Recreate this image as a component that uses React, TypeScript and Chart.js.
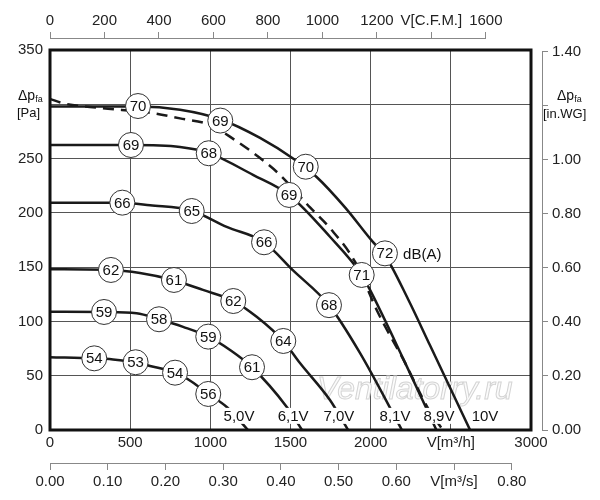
import React, { useEffect, useRef } from 'react';
import { Chart, registerables } from 'chart.js';

Chart.register(...registerables);

const FONT = "'Liberation Sans', Arial, Helvetica, sans-serif";

// Fan curves: flow V [m³/h] and static pressure Δp_fa [Pa]
const flow10V = [0, 300, 549, 811, 1066, 1310, 1516, 1663, 1840, 2015, 2089, 2235, 2370, 2620];
const press10V = [298, 298, 298, 295, 286, 269, 250, 233, 205, 173, 161, 120, 78, 0];

const flow89V = [0, 505, 811, 992, 1266, 1491, 1746, 1944, 1996, 2202, 2410];
const press89V = [262.5, 262.5, 260.7, 255, 235, 216.5, 178, 143, 129, 66, 0];

const flow81V = [0, 451, 624, 884, 1102, 1335, 1516, 1740, 1933, 2195];
const press81V = [209.4, 209.4, 207, 202, 187, 173, 147, 115, 71, 0];

const flow70V = [0, 380, 561, 773, 954, 1143, 1291, 1455, 1559, 1746, 1859];
const press70V = [148, 147.4, 144.6, 138, 129, 119, 104, 82, 61.7, 27.6, 0];

const flow61V = [0, 337, 540, 680, 830, 987, 1123, 1260, 1478, 1572];
const press61V = [109, 108.7, 107.5, 102, 95, 86, 73.7, 57.8, 21, 0];

const flow50V = [0, 276, 393, 534, 624, 780, 884, 987, 1104, 1235];
const press50V = [67, 66, 65, 62.4, 59, 52.8, 44.5, 33.2, 21, 0];

// dashed curve
const flowDash = [0, 80, 312, 636, 811, 998, 1154, 1310, 1434, 1622, 1746, 1902, 2046, 2214, 2358, 2450];
const pressDash = [305, 301, 296.6, 292, 287, 281, 267, 250.5, 235, 205, 186, 155, 108, 62, 20, 0];

// sound power markers dB(A)
const dbFlow = [549, 1062, 1595, 2089, 505, 990, 1491, 1944, 451, 884, 1335, 1740, 380, 773, 1143, 1455, 337, 680, 987, 1260, 276, 534, 780, 987];
const dbPress = [298.4, 285, 242.5, 162.7, 262.5, 254.9, 216.5, 142.8, 209.4, 201.7, 172.9, 115, 147.4, 138.2, 118.8, 82, 108.7, 102, 86, 57.8, 66, 62.4, 52.8, 33.2];
const dbValue = [70, 69, 70, 72, 69, 68, 69, 71, 66, 65, 66, 68, 62, 61, 62, 64, 59, 58, 59, 61, 54, 53, 54, 56];

// voltage labels
const voltText = ['5,0V', '6,1V', '7,0V', '8,1V', '8,9V', '10V'];
const voltFlow = [1179, 1516, 1802, 2152, 2426, 2713];
const voltPress = [13, 13, 13, 13, 13, 13];

// ticks
const flowTicks = [0, 500, 1000, 1500, 2000, 2500, 3000];
const pressTicks = [0, 50, 100, 150, 200, 250, 300, 350];
const cfmTicks = [0, 200, 400, 600, 800, 1000, 1200, 1400, 1600];
const m3sTicks = [0, 0.1, 0.2, 0.3, 0.4, 0.5, 0.6, 0.7, 0.8];
const inwgTicks = [0, 0.2, 0.4, 0.6, 0.8, 1.0, 1.2, 1.4];

const FLOW_MAX = 3000;
const PRESS_MAX = 350;
const M3H_PER_CFM = 1.69901;
const PA_PER_INWG = 249.089;

const WATERMARK = 'Ventilatorry.ru';

const toXY = (xs: number[], ys: number[]) => xs.map((x, i) => ({ x, y: ys[i] }));
const near = (a: number, b: number) => Math.abs(a - b) < 1e-6;

const overlay = {
  id: 'overlay',
  beforeDatasetsDraw(chart: any) {
    const { ctx, chartArea: a } = chart;
    ctx.save();
    ctx.beginPath();
    ctx.rect(a.left, a.top, a.right - a.left, a.bottom - a.top);
    ctx.clip();
    ctx.font = `italic 32px ${FONT}`;
    ctx.textAlign = 'left';
    ctx.textBaseline = 'alphabetic';
    ctx.fillStyle = '#fbfbfb';
    ctx.strokeStyle = '#d4d4d4';
    ctx.lineWidth = 1;
    ctx.fillText(WATERMARK, a.left + 267, a.bottom - 31, 213);
    ctx.strokeText(WATERMARK, a.left + 267, a.bottom - 31, 213);
    ctx.restore();
  },
  afterDatasetsDraw(chart: any) {
    const { ctx, chartArea: a, scales } = chart;
    ctx.save();
    // frame
    ctx.strokeStyle = '#111';
    ctx.lineWidth = 3;
    ctx.strokeRect(a.left, a.top, a.right - a.left, a.bottom - a.top);

    // dB values in circles
    const meta = chart.getDatasetMeta(0);
    ctx.font = `15px ${FONT}`;
    ctx.fillStyle = '#111';
    ctx.textAlign = 'center';
    ctx.textBaseline = 'middle';
    meta.data.forEach((pt: any, i: number) => {
      ctx.fillText(String(dbValue[i]), pt.x, pt.y + 1);
    });

    // voltage labels with white background
    voltText.forEach((t, i) => {
      const x = scales.x.getPixelForValue(voltFlow[i]);
      const y = scales.y.getPixelForValue(voltPress[i]);
      const w = ctx.measureText(t).width;
      ctx.fillStyle = '#fff';
      ctx.fillRect(x - w / 2 - 1, y - 8, w + 2, 16);
      ctx.fillStyle = '#111';
      ctx.fillText(t, x, y + 1);
    });

    // dB(A)
    ctx.textAlign = 'left';
    ctx.fillText('dB(A)', scales.x.getPixelForValue(2202), scales.y.getPixelForValue(162) + 1);

    // axis titles
    const yT = scales.y.getPixelForValue(300);
    ctx.textBaseline = 'alphabetic';
    ctx.textAlign = 'left';
    const drawDp = (x: number) => {
      ctx.font = `14px ${FONT}`;
      ctx.fillText('Δp', x, yT - 4);
      const w = ctx.measureText('Δp').width;
      ctx.font = `9px ${FONT}`;
      ctx.fillText('fa', x + w, yT - 2);
    };
    drawDp(a.left - 32);
    ctx.font = `13px ${FONT}`;
    ctx.fillText('[Pa]', a.left - 33, yT + 13);
    const rx = scales.yinwg.left;
    drawDp(rx + 15);
    ctx.font = `13px ${FONT}`;
    ctx.fillText('[in.WG]', rx + 1, yT + 14);

    // secondary axis lines
    ctx.strokeStyle = '#888';
    ctx.lineWidth = 1;
    ctx.beginPath();
    const cfm = scales.xcfm;
    const yc = Math.round(cfm.bottom) - 0.5;
    ctx.moveTo(cfm.getPixelForValue(0), yc);
    ctx.lineTo(cfm.getPixelForValue(1600), yc);
    const ms = scales.xs;
    const ym = Math.round(ms.top) + 0.5;
    ctx.moveTo(ms.getPixelForValue(0), ym);
    ctx.lineTo(ms.getPixelForValue(0.8), ym);
    const wg = scales.yinwg;
    const xw = Math.round(wg.left) + 0.5;
    ctx.moveTo(xw, wg.getPixelForValue(0));
    ctx.lineTo(xw, wg.getPixelForValue(1.4));
    ctx.stroke();
    ctx.restore();
  },
};

const tickFont = { family: FONT, size: 15 };
const TICK_COLOR = '#222';

export default function App() {
  const ref = useRef<HTMLCanvasElement | null>(null);
  useEffect(() => {
    if (!ref.current) return;
    const curves = [
      { xs: flow10V, ys: press10V, dash: false },
      { xs: flowDash, ys: pressDash, dash: true },
      { xs: flow89V, ys: press89V, dash: false },
      { xs: flow81V, ys: press81V, dash: false },
      { xs: flow70V, ys: press70V, dash: false },
      { xs: flow61V, ys: press61V, dash: false },
      { xs: flow50V, ys: press50V, dash: false },
    ];
    const datasets: any[] = [
      {
        data: toXY(dbFlow, dbPress),
        showLine: false,
        pointRadius: 12.5,
        pointBackgroundColor: '#fff',
        pointBorderColor: '#333',
        pointBorderWidth: 1,
        order: 0,
      },
      ...curves.map((c) => ({
        data: toXY(c.xs, c.ys),
        borderColor: '#1a1a1a',
        borderWidth: 2.5,
        borderDash: c.dash ? [11, 7] : [],
        pointRadius: 0,
        cubicInterpolationMode: 'monotone',
        fill: false,
        order: 1,
      })),
    ];
    const gap = (pos: string, size: number, weight: number) => ({
      type: 'linear',
      position: pos,
      display: true,
      weight,
      min: 0,
      max: 1,
      ticks: { display: false },
      grid: { display: false },
      border: { display: false },
      afterFit: (s: any) => {
        if (pos === 'top' || pos === 'bottom') s.height = size;
        else s.width = size;
      },
    });
    const chart = new Chart(ref.current, {
      type: 'line',
      data: { datasets },
      plugins: [overlay],
      options: {
        animation: false,
        responsive: true,
        maintainAspectRatio: false,
        events: [],
        layout: { padding: 0 },
        plugins: { legend: { display: false }, tooltip: { enabled: false } },
        scales: {
          x: {
            type: 'linear',
            position: 'bottom',
            weight: 0,
            min: 0,
            max: FLOW_MAX,
            afterBuildTicks: (s: any) => {
              s.ticks = flowTicks.map((v) => ({ value: v }));
            },
            ticks: {
              font: tickFont,
              color: TICK_COLOR,
              padding: 4,
              autoSkip: false,
              maxRotation: 0,
              minRotation: 0,
              callback: (v: any) => (v === 2500 ? 'V[m³/h]' : String(v)),
            },
            grid: { color: '#555', lineWidth: 1, drawTicks: false },
            border: { display: false },
            afterFit: (s: any) => {
              s.height = 33;
            },
          },
          xs: {
            type: 'linear',
            position: 'bottom',
            weight: 1,
            min: 0,
            max: FLOW_MAX / 3600,
            afterBuildTicks: (s: any) => {
              s.ticks = m3sTicks.map((v) => ({ value: v }));
            },
            ticks: {
              font: tickFont,
              color: TICK_COLOR,
              padding: 3,
              autoSkip: false,
              maxRotation: 0,
              minRotation: 0,
              callback: (v: any) => (near(v, 0.7) ? 'V[m³/s]' : Number(v).toFixed(2)),
            },
            grid: { drawOnChartArea: false, drawTicks: true, tickLength: 7, color: '#888', lineWidth: 1 },
            border: { display: false },
            afterFit: (s: any) => {
              s.height = 37;
            },
          },
          xtopGap: gap('top', 11, 0),
          xcfm: {
            type: 'linear',
            position: 'top',
            weight: 1,
            min: 0,
            max: FLOW_MAX / M3H_PER_CFM,
            afterBuildTicks: (s: any) => {
              s.ticks = cfmTicks.map((v) => ({ value: v }));
            },
            ticks: {
              font: tickFont,
              color: TICK_COLOR,
              padding: 2,
              autoSkip: false,
              maxRotation: 0,
              minRotation: 0,
              callback: (v: any) => (v === 1400 ? 'V[C.F.M.]' : String(v)),
            },
            grid: { drawOnChartArea: false, drawTicks: true, tickLength: 7, color: '#888', lineWidth: 1 },
            border: { display: false },
            afterFit: (s: any) => {
              s.height = 39;
            },
          },
          y: {
            type: 'linear',
            position: 'left',
            min: 0,
            max: PRESS_MAX,
            afterBuildTicks: (s: any) => {
              s.ticks = pressTicks.map((v) => ({ value: v }));
            },
            ticks: {
              font: tickFont,
              color: TICK_COLOR,
              padding: 7,
              autoSkip: false,
              callback: (v: any) => (v === 300 ? '' : String(v)),
            },
            grid: { color: '#555', lineWidth: 1, drawTicks: false },
            border: { display: false },
            afterFit: (s: any) => {
              s.width = 50;
            },
          },
          yrGap: gap('right', 11, 0),
          yinwg: {
            type: 'linear',
            position: 'right',
            weight: 1,
            min: 0,
            max: PRESS_MAX / PA_PER_INWG,
            afterBuildTicks: (s: any) => {
              s.ticks = inwgTicks.map((v) => ({ value: v }));
            },
            ticks: {
              font: tickFont,
              color: TICK_COLOR,
              padding: 4,
              autoSkip: false,
              callback: (v: any) => (near(v, 1.2) ? '' : Number(v).toFixed(2)),
            },
            grid: { drawOnChartArea: false, drawTicks: true, tickLength: 6, color: '#888', lineWidth: 1 },
            border: { display: false },
            afterFit: (s: any) => {
              s.width = 58;
            },
          },
        },
      } as any,
    });
    return () => chart.destroy();
  }, []);
  return (
    <div style={{ position: 'absolute', left: 0, top: 0, width: 600, height: 500, background: '#fff' }}>
      <canvas ref={ref} />
    </div>
  );
}
